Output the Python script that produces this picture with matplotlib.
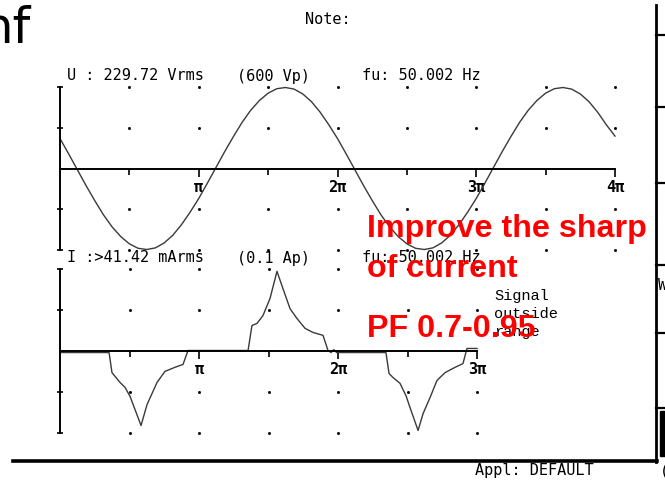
import numpy as np
import matplotlib
matplotlib.use("Agg")
import matplotlib.pyplot as plt
from matplotlib.lines import Line2D
from matplotlib.patches import Rectangle

# ---------------- data (x in units of pi, y in divisions) ----------
volt_t = np.linspace(0, 4, 65)
volt_v = [0.74, 0.36, -0.03, -0.42, -0.79, -1.14, -1.44, -1.68, -1.86, -1.97, -2.00, -1.96,
          -1.84, -1.65, -1.39, -1.08, -0.74, -0.36, 0.03, 0.42, 0.79, 1.14, 1.44, 1.68,
          1.86, 1.97, 2.00, 1.96, 1.84, 1.65, 1.39, 1.08,
          0.74, 0.36, -0.03, -0.42, -0.79, -1.14, -1.44, -1.68, -1.86, -1.97, -2.00, -1.96,
          -1.84, -1.65, -1.39, -1.08, -0.74, -0.36, 0.03, 0.42, 0.79, 1.14, 1.44, 1.68,
          1.86, 1.97, 2.00, 1.96, 1.84, 1.65, 1.39, 1.08, 0.80]

cur_t = [0, 0.353, 0.374, 0.432, 0.468, 0.504, 0.583, 0.626, 0.698, 0.755, 0.827, 0.885,
         0.921, 1.353, 1.381, 1.417, 1.460, 1.511, 1.561, 1.604, 1.655, 1.705, 1.763, 1.820,
         1.892, 1.928, 1.95, 1.97, 1.99, 2.345, 2.367, 2.396, 2.446, 2.489, 2.518, 2.576,
         2.612, 2.662, 2.712, 2.770, 2.842, 2.899, 2.928, 3.0]
cur_v = [-0.05, -0.05, -0.54, -0.78, -0.90, -1.12, -1.83, -1.32, -0.78, -0.51, -0.41, -0.34,
         0.0, 0.0, 0.61, 0.66, 0.85, 1.27, 1.93, 1.51, 1.02, 0.78, 0.54, 0.44,
         0.37, 0.0, -0.05, 0.02, -0.05, -0.05, -0.56, -0.66, -0.80, -1.10, -1.39, -1.95,
         -1.54, -1.15, -0.73, -0.54, -0.41, -0.32, 0.05, 0.05]

u_ticks = [1, 2, 3, 4]
u_tick_labels = ["π", "2π", "3π", "4π"]
i_ticks = [1, 2, 3]
i_tick_labels = ["π", "2π", "3π"]

u_header = ["U : 229.72 Vrms", "(600 Vp)", "fu: 50.002 Hz"]
i_header = ["I :>41.42 mArms", "(0.1 Ap)", "fu: 50.002 Hz"]
note_text = [("Improve the sharp", 237), ("of current", 277), ("PF 0.7-0.95", 337)]
signal_text = ["Signal", "outside", "range"]

W, H = 665, 482
fig = plt.figure(figsize=(W / 100, H / 100), dpi=100, facecolor="white")


def fx(x):
    return x / W


def fy(y):
    return 1 - y / H


MONO = "DejaVu Sans Mono"
TRACE = "#3a3a3a"


def scope_axes(rect, xmax, ticks, labels):
    ax = fig.add_axes(rect)
    ax.set_xlim(0, xmax)
    ax.set_ylim(-2, 2)
    ax.set_facecolor("none")
    for s in ("top", "right"):
        ax.spines[s].set_visible(False)
    ax.spines["bottom"].set_position(("data", 0))
    ax.spines["bottom"].set_linewidth(1.4)
    ax.spines["left"].set_linewidth(1.4)
    ax.set_xticks(ticks)
    ax.set_xticklabels(labels, fontfamily=MONO, fontweight="bold", fontsize=11)
    ax.set_xticks(np.arange(0.5, xmax, 1.0), minor=True)
    ax.tick_params(axis="x", which="major", direction="out", length=6, width=1.2, pad=2)
    ax.tick_params(axis="x", which="minor", direction="out", length=4, width=1.2)
    ax.set_yticks([-2, -1, 1, 2])
    ax.set_yticklabels([])
    ax.tick_params(axis="y", direction="inout", length=5, width=1.2)
    # dotted grid of the scope screen
    gx = np.arange(0.5, xmax + 0.01, 0.5)
    for gy in (-2, -1, 1, 2):
        ax.plot(gx, [gy] * len(gx), linestyle="none", marker="s", markersize=1.0,
                color="black", clip_on=False)
    return ax


ax1 = scope_axes([fx(60), fy(249.5), fx(555), 162 / H], 4, u_ticks, u_tick_labels)
ax1.plot(volt_t, volt_v, color=TRACE, lw=1.0, clip_on=False)

ax2 = scope_axes([fx(60), fy(432.5), fx(417), 164 / H], 3, i_ticks, i_tick_labels)
ax2.plot(cur_t, cur_v, color=TRACE, lw=1.0, clip_on=False)

# headers
for txt, x in zip(u_header, [67, 237, 362]):
    fig.text(fx(x), fy(76), txt, fontfamily=MONO, fontsize=11, va="center", ha="left")
for txt, x in zip(i_header, [67, 237, 362]):
    fig.text(fx(x), fy(258), txt, fontfamily=MONO, fontsize=11, va="center", ha="left")

fig.text(fx(305), fy(20), "Note:", fontfamily=MONO, fontsize=11, va="center", ha="left")
fig.text(fx(475), fy(471), "Appl: DEFAULT", fontfamily=MONO, fontsize=11,
         va="center", ha="left")
fig.text(fx(660), fy(471), "(", fontfamily=MONO, fontsize=11, va="center", ha="left")
fig.text(fx(-19), fy(43), "nf", fontfamily="DejaVu Sans", fontsize=36, va="baseline",
         ha="left", fontweight="normal")

for txt, y in zip(signal_text, [296, 314, 332]):
    fig.text(fx(494), fy(y), txt, fontfamily="Liberation Mono", fontsize=11,
             va="center", ha="left")

# frame lines on the right and bottom
fig.add_artist(Line2D([fx(13), fx(657)], [fy(461), fy(461)], color="black", lw=2.6))
fig.add_artist(Line2D([fx(656), fx(656)], [fy(5), fy(462)], color="black", lw=2.0))
for y in [35, 107, 183, 265, 333, 408]:
    fig.add_artist(Line2D([fx(656), fx(666)], [fy(y), fy(y)], color="black", lw=1.6))
fig.add_artist(Rectangle((fx(660), fy(456)), fx(6), (456 - 411) / H, color="black",
                         transform=fig.transFigure))
fig.text(fx(658), fy(285), "W", fontfamily=MONO, fontsize=11, va="center", ha="left")

# red annotation
for txt, y in note_text:
    fig.text(fx(367), fy(y), txt, color="#ff0000", fontfamily="Liberation Sans",
             fontweight="bold", fontsize=23.2, va="baseline", ha="left", zorder=10)

fig.savefig("out.png", dpi=100, facecolor="white")
